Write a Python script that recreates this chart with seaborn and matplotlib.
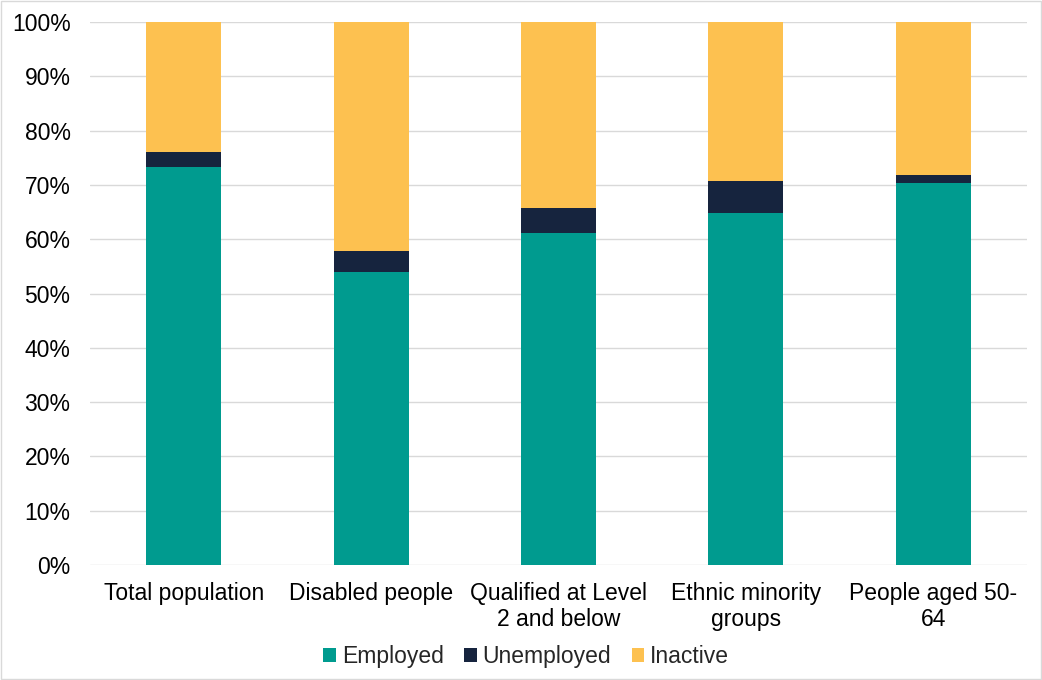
import matplotlib
matplotlib.use("Agg")
import matplotlib.pyplot as plt
import seaborn as sns
import pandas as pd
import numpy as np
from matplotlib.patches import Patch

categories = ["Total population", "Disabled people", "Qualified at Level\n2 and below",
              "Ethnic minority\ngroups", "People aged 50-\n64"]
employed = [73.3, 54.0, 61.1, 64.8, 70.3]
unemployed = [2.8, 3.8, 4.7, 6.0, 1.6]
inactive = [round(100 - e - u, 1) for e, u in zip(employed, unemployed)]
series = ["Employed", "Unemployed", "Inactive"]
colors = {"Employed": "#009B8F", "Unemployed": "#16243E", "Inactive": "#FDC150"}

sns.set_theme(style="white")
plt.rcParams['font.family'] = ['Liberation Sans', 'DejaVu Sans']

fs = 16.5
fig = plt.figure(figsize=(10.42, 6.8), dpi=100)
ax = fig.add_axes([0.0864, 0.169, 0.8992, 0.7986])

emp = np.array(employed)
une = np.array(unemployed)
ina = np.array(inactive)
df = pd.DataFrame({"cat": categories,
                   "Inactive": emp + une + ina,
                   "Unemployed": emp + une,
                   "Employed": emp})

for s in ["Inactive", "Unemployed", "Employed"]:
    sns.barplot(data=df, x="cat", y=s, color=colors[s], width=0.4,
                saturation=1, ax=ax, zorder=3, linewidth=0, edgecolor="none")

ax.set_ylim(0, 100)
ax.set_xlim(-0.5, 4.5)
ax.set_yticks(np.arange(0, 101, 10))
ax.set_yticklabels([f"{v}%" for v in range(0, 101, 10)])
ax.grid(axis="y", color="#D9D9D9", linewidth=1, zorder=0)
ax.set_axisbelow(True)
for sp in ax.spines.values():
    sp.set_visible(False)
ax.set_xlabel("")
ax.set_ylabel("")
ax.tick_params(axis="y", length=0, pad=14, labelsize=fs, labelcolor="#000000")
ax.tick_params(axis="x", length=0, pad=12, labelsize=fs, labelcolor="#000000")
for lbl in ax.get_xticklabels():
    lbl.set_linespacing(1.2)

handles = [Patch(facecolor=colors[s], edgecolor="none", label=s) for s in series]
fig.legend(handles=handles, loc="center", bbox_to_anchor=(0.505, 0.034), ncol=3,
           frameon=False, fontsize=fs, handlelength=0.55, handleheight=0.55,
           handletextpad=0.25, columnspacing=0.9)

fig.patches.append(plt.Rectangle((0.001, 0.001), 0.998, 0.998, transform=fig.transFigure,
                                 fill=False, edgecolor="#D9D9D9", linewidth=1))

fig.savefig("out.png", dpi=100, facecolor="white")
